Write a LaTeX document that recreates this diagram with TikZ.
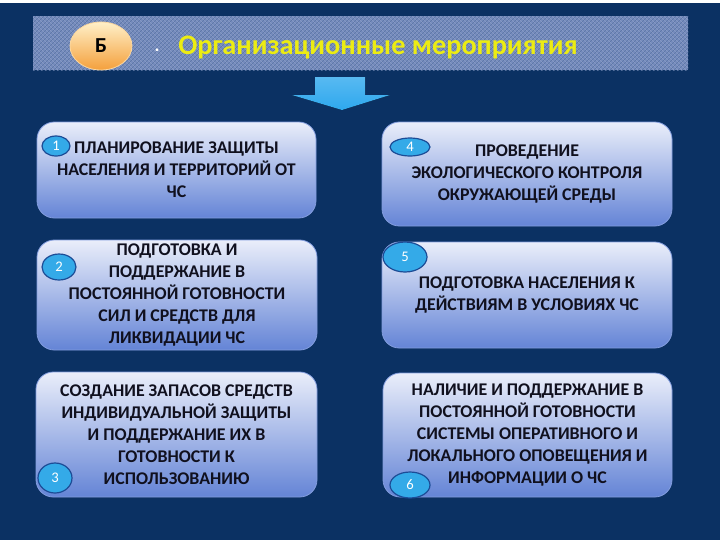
\documentclass[tikz,border=0pt]{standalone}
\usepackage{fontspec}
\setmainfont{Carlito}
\usepackage{tikz}
\usetikzlibrary{arrows.meta,shapes.geometric,patterns}
\usepackage{xcolor}

\definecolor{navy}{RGB}{11,49,99}
\definecolor{bannerblue}{RGB}{118,140,190}
\definecolor{titleyellow}{RGB}{236,236,18}
\definecolor{arrowblue}{RGB}{46,168,238}
\definecolor{boxtop}{RGB}{234,238,250}
\definecolor{boxbottom}{RGB}{100,132,214}
\definecolor{numfill}{RGB}{52,170,232}
\definecolor{numline}{RGB}{28,76,150}
\definecolor{boxtext}{RGB}{16,16,30}

\tikzset{
  measure/.style={rounded corners=13, top color=boxtop, bottom color=boxbottom, draw=boxbottom!80!white, line width=0.6pt,
    text=boxtext, font=\bfseries\fontsize{13.4}{16.5}\selectfont, align=center, inner sep=0pt},
  numtag/.style={ellipse, fill=numfill, draw=numline, line width=0.9pt, text=white, font=\fontsize{11}{12}\selectfont, inner sep=0pt},
}

\begin{document}
\begin{tikzpicture}[x=0.75pt,y=0.75pt,yscale=-1,xscale=1]
\useasboundingbox (0,0) rectangle (720,540);

%Shape: Background
\fill [white] (0,0) rectangle (720,540);
\fill [navy] (0,3) rectangle (720,540);

%Shape: Banner
\fill [bannerblue] (33,16) rectangle (688,70);
\fill [pattern=crosshatch dots, pattern color=white!70!bannerblue] (33,16) rectangle (688,70);
\fill [pattern=north east lines, pattern color=bannerblue!70!navy] (33,16) rectangle (688,70);

%Shape: Ellipse [letter]
\draw (101,46) node [ellipse, minimum width=46.5pt, minimum height=36pt, top color={rgb,255:red,255;green,240;blue,200}, bottom color={rgb,255:red,244;green,160;blue,60}, draw={rgb,255:red,250;green,215;blue,160}, line width=0.6pt, font=\bfseries\fontsize{16}{18}\selectfont] (letter) {Б};

% Text Node
\draw (157,50) node [text=white, font=\bfseries\fontsize{14}{16}\selectfont] (dot) {.};
% Text Node
\draw (178,48) node [anchor=west, inner sep=0pt, text=titleyellow, font=\bfseries\fontsize{21.2}{24}\selectfont] (title) {Организационные мероприятия};

%Shape: Down Arrow
\fill [top color=arrowblue!80!white, bottom color=arrowblue] (315,77) -- (365,77) -- (365,95) -- (390,95) -- (342,110) -- (292,95) -- (315,95) -- cycle;

%Shape: Boxes
\draw (176.5,170) node [measure, minimum width=209.25pt, minimum height=72pt] (box1) {ПЛАНИРОВАНИЕ ЗАЩИТЫ\\НАСЕЛЕНИЯ И ТЕРРИТОРИЙ ОТ\\ЧС};
\draw (177,295) node [measure, minimum width=210pt, minimum height=82.5pt] (box2) {ПОДГОТОВКА И\\ПОДДЕРЖАНИЕ В\\ПОСТОЯННОЙ ГОТОВНОСТИ\\СИЛ И СРЕДСТВ ДЛЯ\\ЛИКВИДАЦИИ ЧС};
\draw (176.5,434.5) node [measure, minimum width=210.75pt, minimum height=93.75pt] (box3) {СОЗДАНИЕ ЗАПАСОВ СРЕДСТВ\\ИНДИВИДУАЛЬНОЙ ЗАЩИТЫ\\И ПОДДЕРЖАНИЕ ИХ В\\ГОТОВНОСТИ К\\ИСПОЛЬЗОВАНИЮ};
\draw (527,174) node [measure, minimum width=217.5pt, minimum height=78pt] (box4) {ПРОВЕДЕНИЕ\\ЭКОЛОГИЧЕСКОГО КОНТРОЛЯ\\ОКРУЖАЮЩЕЙ СРЕДЫ};
\draw (527,295) node [measure, minimum width=217.5pt, minimum height=79.5pt] (box5) {ПОДГОТОВКА НАСЕЛЕНИЯ К\\ДЕЙСТВИЯМ В УСЛОВИЯХ ЧС};
\draw (527.5,435) node [measure, minimum width=216.75pt, minimum height=93pt] (box6) {НАЛИЧИЕ И ПОДДЕРЖАНИЕ В\\ПОСТОЯННОЙ ГОТОВНОСТИ\\СИСТЕМЫ ОПЕРАТИВНОГО И\\ЛОКАЛЬНОГО ОПОВЕЩЕНИЯ И\\ИНФОРМАЦИИ О ЧС};

%Shape: Number tags
\draw (56,146) node [numtag, minimum width=21pt, minimum height=15pt] (n1) {1};
\draw (59,267) node [numtag, minimum width=25.5pt, minimum height=19.5pt] (n2) {2};
\draw (55,478) node [numtag, minimum width=25.5pt, minimum height=22.5pt] (n3) {3};
\draw (410,147) node [numtag, minimum width=30pt, minimum height=13.5pt] (n4) {4};
\draw (405,257) node [numtag, minimum width=33pt, minimum height=22.5pt] (n5) {5};
\draw (410,485) node [numtag, minimum width=30pt, minimum height=19.5pt] (n6) {6};

\end{tikzpicture}
\end{document}
